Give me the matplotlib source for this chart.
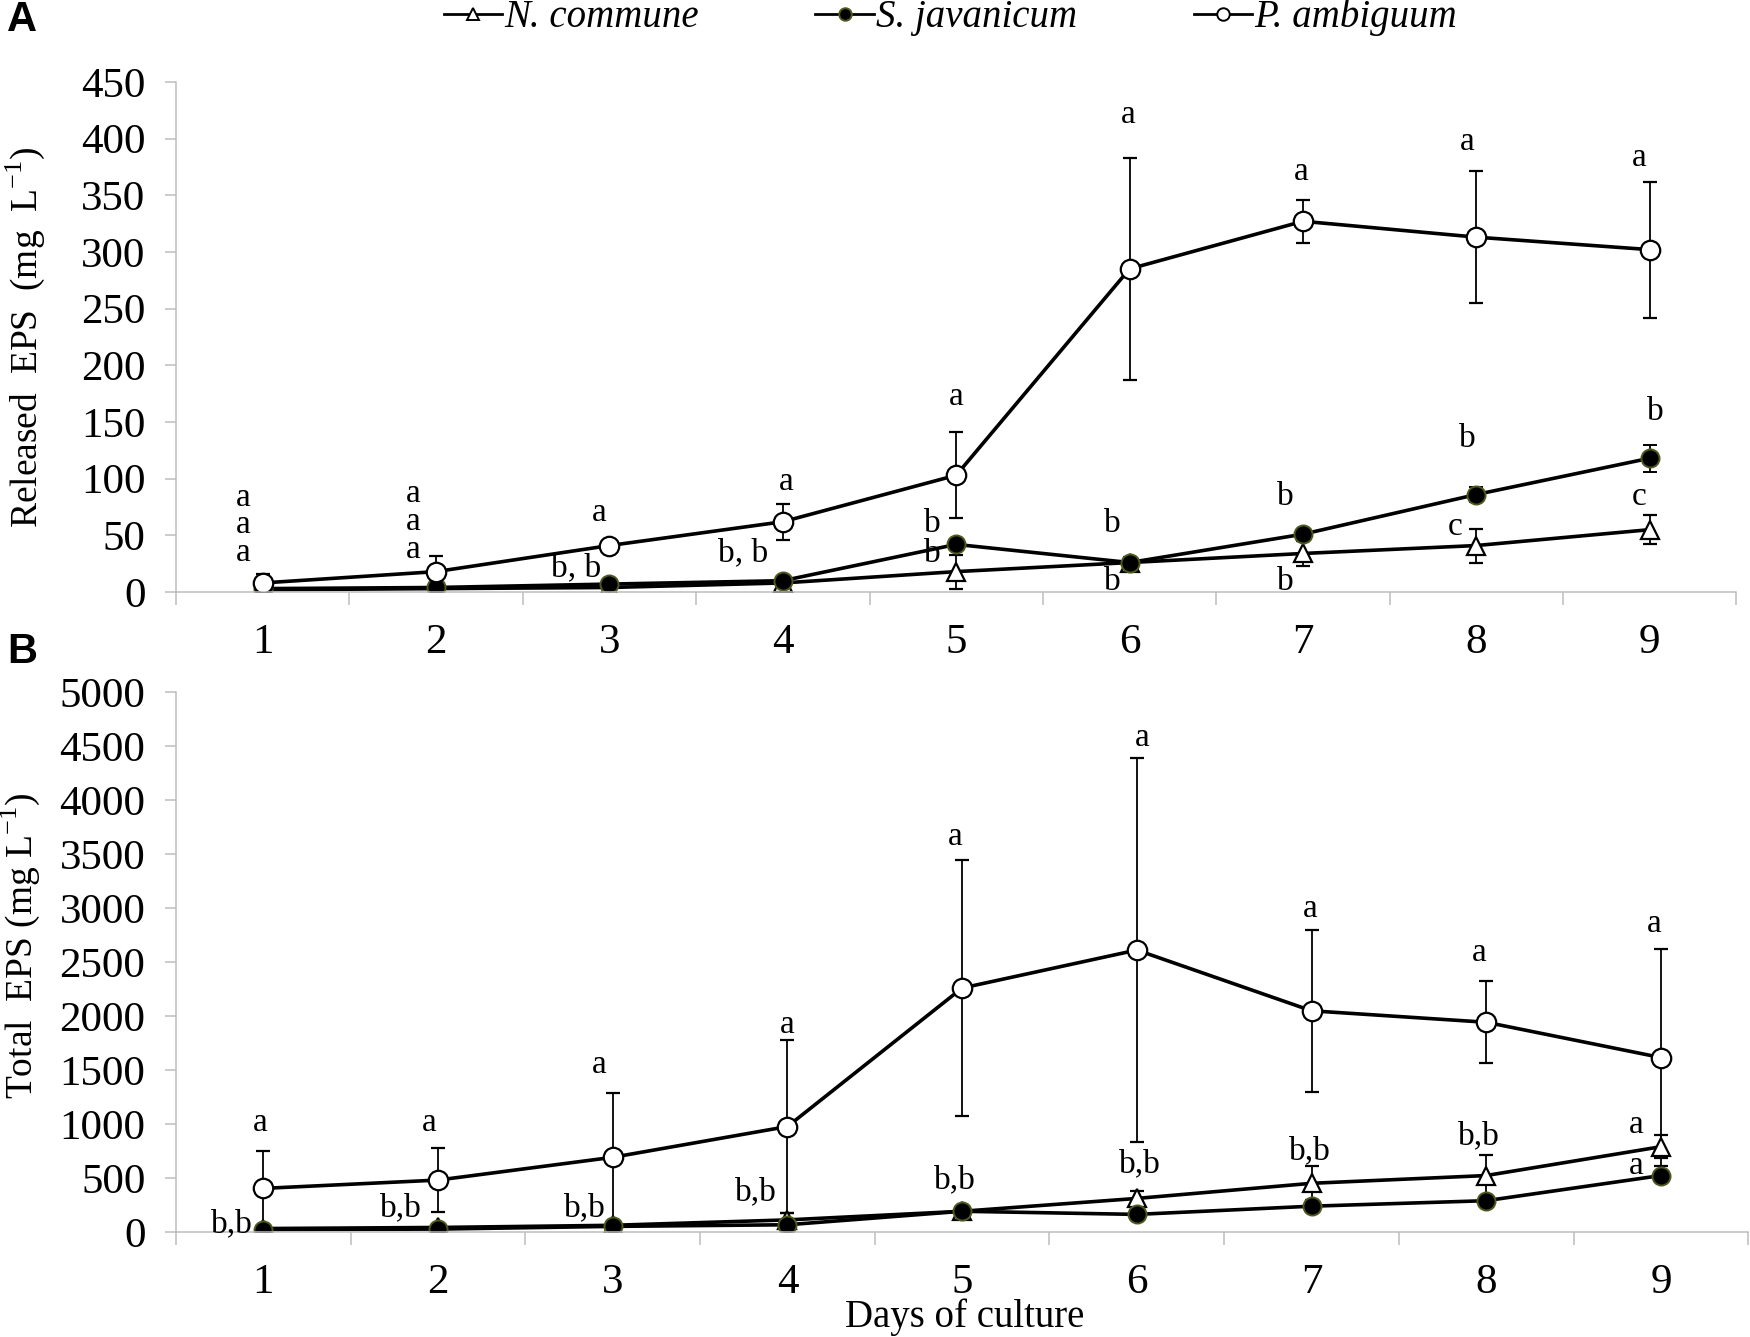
import matplotlib
matplotlib.use("Agg")
import matplotlib.pyplot as plt
from matplotlib.ticker import FixedLocator, NullFormatter
from matplotlib.lines import Line2D

plt.rcParams['font.family'] = ['Liberation Serif', 'DejaVu Serif']
plt.rcParams['mathtext.fontset'] = 'custom'
plt.rcParams['mathtext.rm'] = 'Liberation Serif'

days = [1, 2, 3, 4, 5, 6, 7, 8, 9]
species = ["N. commune", "S. javanicum", "P. ambiguum"]

# Panel A: released EPS (mg L-1)
rel_ncom = [2, 3, 4, 8, 18, 26, 34, 41, 55]
rel_ncom_err = [1, 1, 1, 2, 15, 3, 11, 15, 13]
rel_sjav = [3, 4, 7, 10, 42, 26, 51, 86, 118]
rel_sjav_err = [1, 1, 2, 2, 3, 5, 3, 7, 12]
rel_pamb = [8, 18, 41, 62, 103, 285, 327, 313, 302]
rel_pamb_err = [8, 14, 3, 16, 38, 98, 19, 58, 60]

# Panel B: total EPS (mg L-1)
tot_ncom = [30, 40, 60, 110, 190, 309, 449, 521, 788]
tot_ncom_err = [15, 15, 20, 60, 30, 72, 157, 191, 105]
tot_sjav = [20, 25, 50, 65, 190, 161, 237, 288, 521]
tot_sjav_err = [10, 10, 15, 20, 30, 20, 30, 30, 40]
tot_pamb = [402, 479, 690, 975, 2258, 2610, 2047, 1941, 1614]
tot_pamb_err = [345, 293, 592, 805, 1190, 1775, 752, 378, 1005]

yticks_A = [0, 50, 100, 150, 200, 250, 300, 350, 400, 450]
yticks_B = [0, 500, 1000, 1500, 2000, 2500, 3000, 3500, 4000, 4500, 5000]

# significance letters: (day, x shift, y, text)
letters_A = [
    (1, -0.11, 83, 'a'), (1, -0.11, 59, 'a'), (1, -0.11, 35, 'a'),
    (2, -0.13, 87, 'a'), (2, -0.13, 62, 'a'), (2, -0.13, 37, 'a'),
    (3, -0.06, 70, 'a'), (3, -0.19, 21.6, 'b, b'),
    (4, 0.02, 97, 'a'), (4, -0.23, 34.5, 'b, b'),
    (5, 0.0, 172, 'a'), (5, -0.135, 60, 'b'), (5, -0.135, 34, 'b'),
    (6, -0.01, 421, 'a'), (6, -0.1, 60, 'b'), (6, -0.1, 9.4, 'b'),
    (7, -0.01, 371, 'a'), (7, -0.1, 84, 'b'), (7, -0.1, 9.4, 'b'),
    (8, -0.05, 397, 'a'), (8, -0.05, 135, 'b'), (8, -0.12, 58, 'c'),
    (9, -0.06, 383, 'a'), (9, 0.03, 159, 'b'), (9, -0.06, 84, 'c'),
]
letters_B = [
    (1, -0.02, 1008, 'a'), (1, -0.18, 76, 'b,b'),
    (2, -0.05, 1008, 'a'), (2, -0.21, 225, 'b,b'),
    (3, -0.08, 1551, 'a'), (3, -0.16, 225, 'b,b'),
    (4, 0.0, 1920, 'a'), (4, -0.18, 373, 'b,b'),
    (5, -0.04, 3657, 'a'), (5, -0.04, 479, 'b,b'),
    (6, 0.03, 4576, 'a'), (6, 0.02, 627, 'b,b'),
    (7, -0.01, 2992, 'a'), (7, -0.01, 746, 'b,b'),
    (8, -0.04, 2585, 'a'), (8, -0.04, 890, 'b,b'),
    (9, -0.04, 2852, 'a'), (9, -0.14, 996, 'a'), (9, -0.14, 614, 'a'),
]

axis_grey = '#bdbdbd'
fig = plt.figure(figsize=(17.5, 13.37), dpi=100)
axA = fig.add_axes([0.1006, 0.5572, 0.8916, 0.3816])
axB = fig.add_axes([0.1006, 0.0787, 0.8984, 0.4037])

styles = [
    dict(marker='^', mfc='white', mec='black', ms=13, mew=1.6),
    dict(marker='o', mfc='black', mec='#4d5a1e', ms=13, mew=1.4),
    dict(marker='o', mfc='white', mec='black', ms=14, mew=1.6),
]

def draw(ax, series, errs, yticks, ylabel, letters, label_coords):
    for vals, err, st in zip(series, errs, styles):
        ax.errorbar(days, vals, yerr=err, color='black', lw=2.6, elinewidth=1.3,
                    capsize=5, capthick=1.3, **st)
    ax.set_xlim(0.5, 9.5)
    ax.set_ylim(yticks[0], yticks[-1])
    for s in ['top', 'right']:
        ax.spines[s].set_visible(False)
    for s in ['left', 'bottom']:
        ax.spines[s].set_color(axis_grey)
        ax.spines[s].set_linewidth(1.1)
    ax.set_yticks(yticks)
    ax.set_xticks(days)
    ax.xaxis.set_minor_locator(FixedLocator([d + 0.5 for d in [0] + days]))
    ax.xaxis.set_minor_formatter(NullFormatter())
    ax.tick_params(axis='x', which='major', length=0, pad=23, labelsize=31)
    ax.tick_params(axis='x', which='minor', length=9, width=1.1, color=axis_grey, direction='out')
    ax.tick_params(axis='y', which='major', length=8, width=1.1, color=axis_grey, pad=14, labelsize=31)
    ax.set_ylabel(ylabel, fontsize=27)
    ax.yaxis.set_label_coords(*label_coords)
    for d, dx, y, t in letters:
        ax.annotate(t, (d + dx, y), xytext=(0, -6), textcoords='offset points',
                    ha='center', va='baseline', fontsize=24)

draw(axA, [rel_ncom, rel_sjav, rel_pamb], [rel_ncom_err, rel_sjav_err, rel_pamb_err],
     yticks_A, r'Released  EPS  (mg  L$^{\mathregular{-1}}$)', letters_A, (-0.083, 0.5))
draw(axB, [tot_ncom, tot_sjav, tot_pamb], [tot_ncom_err, tot_sjav_err, tot_pamb_err],
     yticks_B, r'Total  EPS (mg L$^{\mathregular{-1}}$)', letters_B, (-0.085, 0.53))

fig.text(0.551, 0.0005, 'Days of culture', ha='center', va='bottom', fontsize=28)
fig.text(0.004, 0.985, 'A', ha='left', va='center', fontsize=30, fontweight='bold',
         family='Liberation Sans')
fig.text(0.004, 0.512, 'B', ha='left', va='center', fontsize=30, fontweight='bold',
         family='Liberation Sans')

handles = [Line2D([0], [0], color='black', lw=2, marker=st['marker'], mfc=st['mfc'],
                  mec=st['mec'], ms=9, mew=1.4) for st in styles]
fig.legend(handles, species, loc='center', bbox_to_anchor=(0.543, 0.987), ncol=3,
           frameon=False, handlelength=1.5, handletextpad=0.05, columnspacing=3.0,
           prop={'family': 'Liberation Serif', 'style': 'italic', 'size': 28})

fig.savefig('out.png', dpi=100)
